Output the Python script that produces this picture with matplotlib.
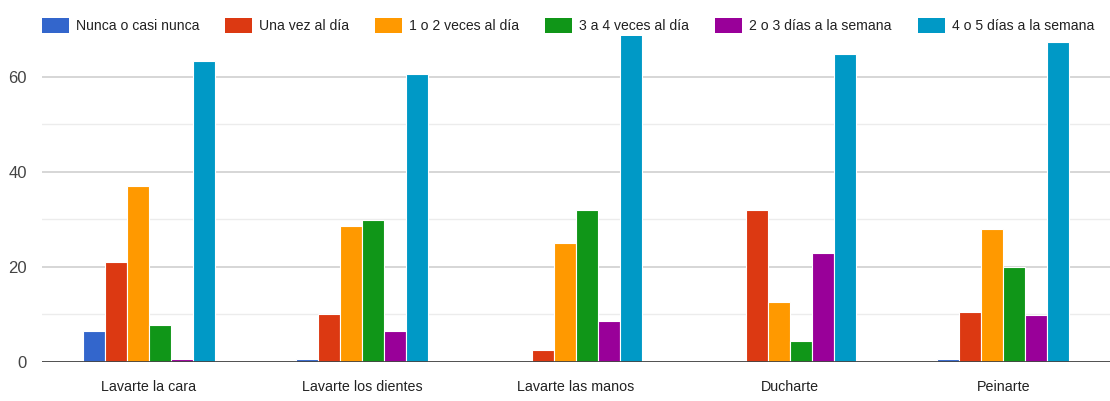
import matplotlib
matplotlib.use("Agg")
import matplotlib.pyplot as plt
import numpy as np
from matplotlib.patches import Patch

categories = ["Lavarte la cara", "Lavarte los dientes", "Lavarte las manos", "Ducharte", "Peinarte"]
series_names = ["Nunca o casi nunca", "Una vez al día", "1 o 2 veces al día",
                "3 a 4 veces al día", "2 o 3 días a la semana", "4 o 5 días a la semana"]
nunca = [6.6, 0.6, 0.0, 0.0, 0.6]
una_vez = [21, 10, 2.5, 32, 10.6]
uno_dos = [37, 28.7, 25, 12.7, 27.9]
tres_cuatro = [7.8, 29.9, 32, 4.5, 19.9]
dos_tres_sem = [0.6, 6.6, 8.6, 23, 9.9]
cuatro_cinco_sem = [63.4, 60.6, 70, 64.8, 67.4]
series_values = [nunca, una_vez, uno_dos, tres_cuatro, dos_tres_sem, cuatro_cinco_sem]
colors = ["#3366CC", "#DC3912", "#FF9900", "#109618", "#990099", "#0099C6"]
yticks = [0, 20, 40, 60]
minor_yticks = [10, 30, 50]

plt.rcParams["font.family"] = ["Liberation Sans", "DejaVu Sans"]

W, H = 1110, 401
fig = plt.figure(figsize=(W / 100, H / 100), dpi=100)
ax = fig.add_axes([42 / W, 1 - 362 / H, 1 - 42 / W, (362 - 36) / H])

x = np.arange(len(categories))
bw = 0.103
n = len(series_values)
for i, (vals, c) in enumerate(zip(series_values, colors)):
    ax.bar(x + (i - (n - 1) / 2) * bw, vals, width=bw, color=c,
           edgecolor="white", linewidth=0.8, zorder=3)

ax.set_xlim(-0.5, len(categories) - 0.5)
ax.set_ylim(0, 68.6)
ax.set_yticks(yticks)
ax.set_yticks(minor_yticks, minor=True)
ax.grid(axis="y", which="major", color="#d0d0d0", linewidth=1.2, zorder=0)
ax.grid(axis="y", which="minor", color="#ececec", linewidth=1.0, zorder=0)
ax.axhline(0, color="#444444", linewidth=2, zorder=4)
for s in ax.spines.values():
    s.set_visible(False)
ax.tick_params(axis="y", which="both", length=0, pad=11, labelsize=12, labelcolor="#444444")
ax.tick_params(axis="x", length=0, pad=13, labelsize=10.3, labelcolor="#222222")
ax.set_xticks(x)
ax.set_xticklabels(categories)

fs = 10.1
fpx = fs * 100 / 72
handles = [Patch(facecolor=c, edgecolor="none") for c in colors]
fig.legend(handles, series_names, loc="upper left", bbox_to_anchor=(41.7 / W, 1 - 18 / H),
           ncol=6, frameon=False, fontsize=fs, handlelength=27 / fpx, handleheight=18 / fpx,
           handletextpad=7 / fpx, columnspacing=26 / fpx, labelcolor="#222222",
           borderpad=0, borderaxespad=0)

fig.savefig("out.png", dpi=100)
